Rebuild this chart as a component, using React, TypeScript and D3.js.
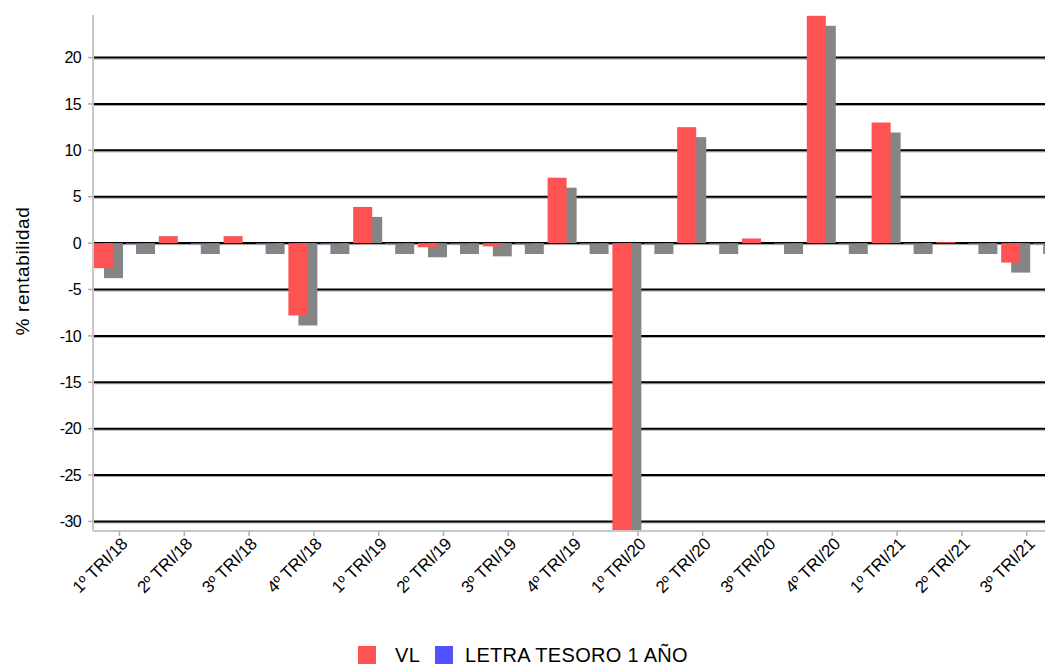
import React, { useEffect, useRef } from "react";
import * as d3 from "d3";

const categories = [
  "1º TRI/18", "2º TRI/18", "3º TRI/18", "4º TRI/18",
  "1º TRI/19", "2º TRI/19", "3º TRI/19", "4º TRI/19",
  "1º TRI/20", "2º TRI/20", "3º TRI/20", "4º TRI/20",
  "1º TRI/21", "2º TRI/21", "3º TRI/21",
];
const vlValues = [-2.7, 0.75, 0.75, -7.8, 3.9, -0.45, -0.35, 7.05, -31.5, 12.5, 0.5, 24.5, 13.0, 0.1, -2.1];
const letraValues = [-0.1, -0.1, -0.1, -0.1, -0.1, -0.1, -0.1, -0.1, -0.1, -0.1, -0.1, -0.1, -0.1, -0.1, -0.1];
const yTicks = [20, 15, 10, 5, 0, -5, -10, -15, -20, -25, -30];
const seriesNames = ["VL", "LETRA TESORO 1 AÑO"];
const seriesColors = ["#ff5252", "#5252ff"];

const W = 1045;
const H = 668;
const FONT = "'Liberation Sans', Arial, sans-serif";

export default function App() {
  const ref = useRef<SVGSVGElement | null>(null);

  useEffect(() => {
    const svg = d3.select(ref.current);
    svg.selectAll("*").remove();

    const left = 93, top = 15, bottom = 530, right = 1070;
    const y = d3.scaleLinear().domain([-31.0, 24.6]).range([530.7, 14.9]);
    const x = d3.scaleBand<string>().domain(categories).range([87.1, 87.1 + 64.8 * categories.length]).padding(0);

    const defs = svg.append("defs");
    defs.append("clipPath").attr("id", "plotclip")
      .append("rect").attr("x", left).attr("y", top).attr("width", right - left).attr("height", bottom - top);

    // gridlines
    const grid = svg.append("g");
    yTicks.forEach((t) => {
      const yy = y(t);
      grid.append("line").attr("x1", left).attr("x2", right).attr("y1", yy + 1.5).attr("y2", yy + 1.5)
        .attr("stroke", "#a0a0a0").attr("stroke-width", 1);
      grid.append("line").attr("x1", left).attr("x2", right).attr("y1", yy).attr("y2", yy)
        .attr("stroke", "#000").attr("stroke-width", 2);
    });

    // axes
    svg.append("line").attr("x1", left).attr("x2", left).attr("y1", top).attr("y2", bottom + 1)
      .attr("stroke", "#c8c8c8").attr("stroke-width", 2);
    svg.append("line").attr("x1", left).attr("x2", right).attr("y1", bottom + 1).attr("y2", bottom + 1)
      .attr("stroke", "#c8c8c8").attr("stroke-width", 2);

    // y ticks + labels
    yTicks.forEach((t) => {
      svg.append("line").attr("x1", left - 5).attr("x2", left).attr("y1", y(t)).attr("y2", y(t))
        .attr("stroke", "#b0b0b0").attr("stroke-width", 1.5);
      svg.append("text").attr("x", 81).attr("y", y(t)).attr("dy", "0.36em")
        .attr("text-anchor", "end").attr("font-family", FONT).attr("font-size", 16)
        .attr("letter-spacing", -0.6)
        .attr("fill", "#000").text(String(t));
    });

    // y title
    svg.append("text").attr("transform", `translate(29,271) rotate(-90)`)
      .attr("text-anchor", "middle").attr("font-family", FONT).attr("font-size", 19)
      .attr("letter-spacing", 0.6)
      .attr("fill", "#000").text("% rentabilidad");

    // bars
    const y0 = y(0);
    const barW = 19;
    const offsets = [-25.5, 6.5];
    const series = [vlValues, letraValues];
    const plot = svg.append("g").attr("clip-path", "url(#plotclip)");
    const shadowG = plot.append("g");
    const barG = plot.append("g");
    categories.forEach((c, i) => {
      const cx = (x(c) as number) + x.bandwidth() / 2;
      series.forEach((vals, s) => {
        const v = vals[i];
        const bx = cx + offsets[s];
        const yv = y(v);
        const sTop = v >= 0 ? yv + 10 : y0;
        const sBot = v >= 0 ? y0 : yv + 10;
        if (sBot > sTop) {
          shadowG.append("rect").attr("x", bx + 10).attr("y", sTop).attr("width", barW)
            .attr("height", sBot - sTop).attr("fill", "#858585");
        }
        barG.append("rect").attr("x", bx).attr("y", Math.min(yv, y0)).attr("width", barW)
          .attr("height", Math.max(1, Math.abs(yv - y0))).attr("fill", seriesColors[s]);
      });
    });

    // x ticks + labels
    categories.forEach((c) => {
      const cx = (x(c) as number) + x.bandwidth() / 2;
      svg.append("line").attr("x1", cx).attr("x2", cx).attr("y1", bottom + 1).attr("y2", bottom + 6)
        .attr("stroke", "#b0b0b0").attr("stroke-width", 1.5);
      svg.append("text").attr("transform", `translate(${cx + 9},${bottom + 15}) rotate(-45)`)
        .attr("text-anchor", "end").attr("font-family", FONT).attr("font-size", 17)
        .attr("letter-spacing", -0.2)
        .attr("fill", "#000").text(c);
    });

    // legend
    const lg = svg.append("g");
    const items = [
      { x: 358, tx: 395 },
      { x: 435, tx: 465 },
    ];
    items.forEach((it, s) => {
      lg.append("rect").attr("x", it.x).attr("y", 646).attr("width", 18).attr("height", 18)
        .attr("fill", seriesColors[s]);
      lg.append("text").attr("x", it.tx).attr("y", 662).attr("font-family", FONT)
        .attr("font-size", 20).attr("letter-spacing", 0.3).attr("fill", "#000").text(seriesNames[s]);
    });
  }, []);

  return (
    <svg ref={ref} width={W} height={H}
      style={{ position: "absolute", left: 0, top: 0, background: "#fff", overflow: "hidden" }} />
  );
}
